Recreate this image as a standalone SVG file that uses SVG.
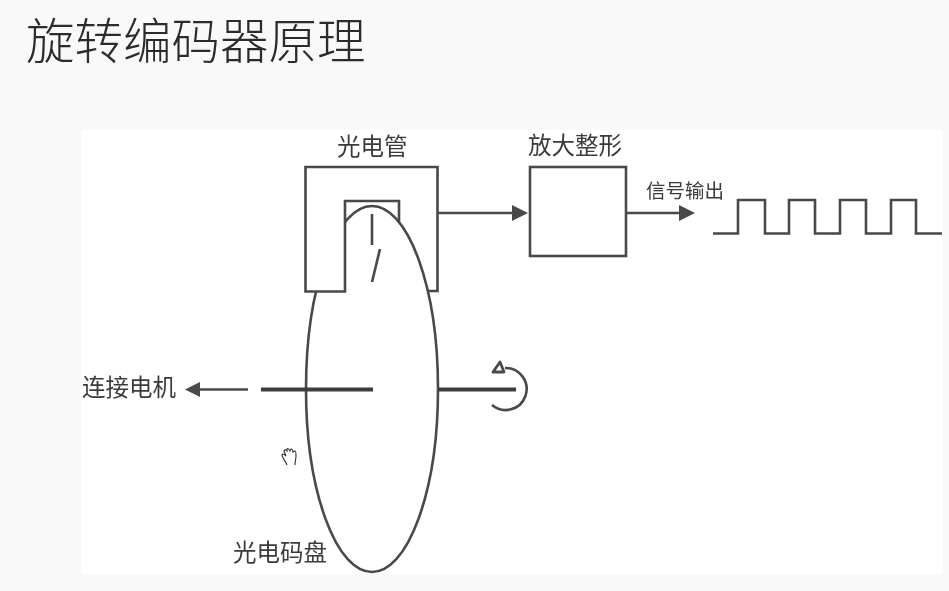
<svg xmlns="http://www.w3.org/2000/svg" width="949" height="591" viewBox="0 0 949 591">
  <defs>
    <style>
      text { font-family: "Noto Sans CJK SC", "Liberation Sans", sans-serif; fill: #3a3a3a; }
      .ln { fill: none; stroke: #484848; stroke-width: 2.600; }
      .thick { fill: none; stroke: #3c3c3c; stroke-width: 3.800; }
      .head { fill: #484848; stroke: none; }
      .lab { font-size: 23.5px; }
    </style>
    <filter id="soft" x="-5%" y="-5%" width="110%" height="110%"><feGaussianBlur stdDeviation="0.450"/></filter>
  </defs>
  <rect width="949" height="591" fill="#f9f9f9"/>
  <rect x="81" y="130" width="862" height="444" fill="#ffffff"/>
  <text id="title" x="26" y="59" font-size="48.500" font-weight="300" style="fill:#2b2b2b">旋转编码器原理</text>

  <g filter="url(#soft)">
    <g id="disc">
      <ellipse class="ln" cx="372" cy="389" rx="66" ry="183" style="fill:#fff"/>
      <rect x="306" y="168" width="39" height="123" fill="#fff"/>
      <text class="lab" x="233" y="561">光电码盘</text>
    </g>
    <g id="phototube">
      <path class="ln" d="M428 291H437.500V167H305.500V291.500H345V201H399V222"/>
      <text class="lab" x="337" y="155">光电管</text>
    </g>
    <g id="amplifier">
      <rect class="ln" x="530" y="167" width="96" height="89"/>
      <text class="lab" x="528" y="154">放大整形</text>
    </g>
    <g id="waveform">
      <path class="ln" d="M713 233.500H738V200H765V233.500H789V200H815V233.500H840V200H866V233.500H891V200H916V233.500H942"/>
      <text x="646" y="198" font-size="19.500">信号输出</text>
    </g>
    <g id="motor-label">
      <text class="lab" x="82" y="396">连接电机</text>
    </g>
    <g id="connectors">
      <path class="ln" d="M438 213H514"/>
      <path class="head" d="M528 213L512 205V221Z"/>
      <path class="ln" d="M626 213H681"/>
      <path class="head" d="M695 213L679 205V221Z"/>
      <path class="ln" d="M248 389.500H198"/>
      <path class="head" d="M185 389.500L200 382V397Z"/>
      <path class="thick" d="M261 389.500H373"/>
      <path class="thick" d="M438 389.500H516"/>
      <path class="ln" d="M372 214V245M380 249L372 282"/>
      <path class="ln" d="M492 405A21 21 0 1 0 505 368"/>
      <path d="M500 362L493 372L504 372Z" fill="#fff" stroke="#484848" stroke-width="2.800" stroke-linejoin="round"/>
    </g>
    <g id="cursor" fill="#fff" stroke="#333" stroke-width="1.100">
      <path d="M287 465C286 461 282 458 282 455C283 453 285 455 286 456L284 451C285 449 286 450 287 451L287 449C288 448 289 449 290 451L291 449C292 449 293 450 293 452L295 451C296 451 296 453 296 456C296 459 295 461 295 465"/>
    </g>
  </g>
</svg>
